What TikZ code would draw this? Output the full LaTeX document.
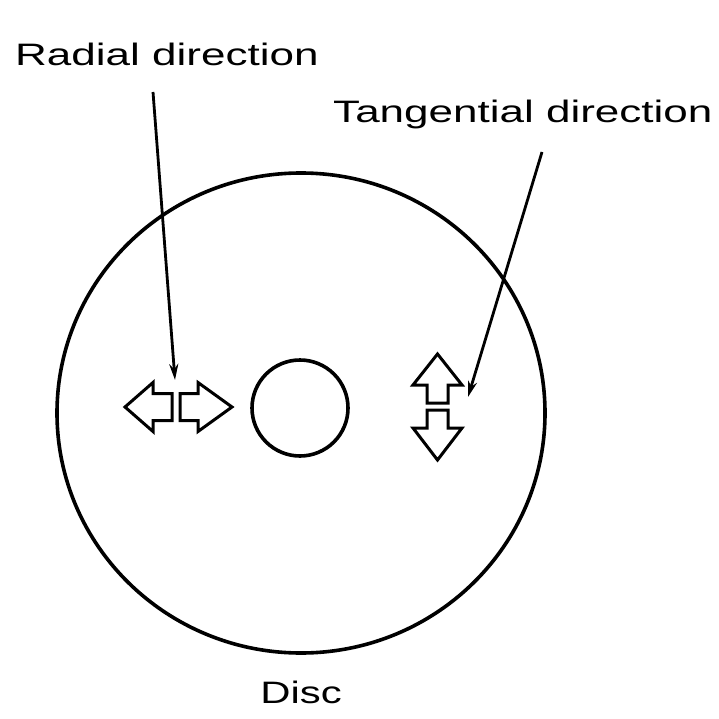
\documentclass[tikz,border=0pt]{standalone}
\usepackage{graphicx}
\usepackage{fontspec}
\setmainfont{Liberation Sans}
\usetikzlibrary{arrows.meta}
\begin{document}
\begin{tikzpicture}[x=1pt,y=-1pt,
  outline/.style={line width=3.6pt},
  blockarrow/.style={line width=3pt, line join=miter},
  pointer/.style={line width=2.8pt, -{Stealth[length=16pt,width=9pt]}},
  lbl/.style={inner sep=0pt, font=\fontsize{31}{31}\selectfont}]
\useasboundingbox (0,0) rectangle (718,719);
% disc
\draw[outline] (301,413) ellipse [x radius=244, y radius=240];
\node[draw, circle, minimum size=96pt, line width=3.6pt, inner sep=0pt] (hole) at (300,408) {};
% labels
\node[lbl, anchor=base west] (radial) at (15,66) {\scalebox{1.42}[1]{Radial direction}};
\node[lbl, anchor=base west] (tangential) at (333,123) {\scalebox{1.42}[1]{Tangential direction}};
\node[lbl, anchor=base] (disc) at (301,703) {\scalebox{1.35}[1]{Disc}};
% radial block arrows
\draw[blockarrow] (125,407) -- (153,382.5) -- (153,393.5) -- (172,393.5) -- (172,420.5) -- (153,420.5) -- (153,431.5) -- cycle;
\draw[blockarrow] (232,407) -- (198,382.5) -- (198,393.5) -- (180,393.5) -- (180,420.5) -- (198,420.5) -- (198,431.5) -- cycle;
% tangential block arrows
\draw[blockarrow] (437.5,354) -- (462,385) -- (448,385) -- (448,403) -- (427,403) -- (427,385) -- (413,385) -- cycle;
\draw[blockarrow] (437.5,460) -- (462,428) -- (448,428) -- (448,410) -- (427,410) -- (427,428) -- (413,428) -- cycle;
% pointers
\coordinate (rstart) at (153,92);
\coordinate (rtip) at (175,380);
\draw[pointer] (rstart) -- (rtip);
\coordinate (tstart) at (542,152);
\coordinate (ttip) at (468,397);
\draw[pointer] (tstart) -- (ttip);
\end{tikzpicture}
\end{document}
